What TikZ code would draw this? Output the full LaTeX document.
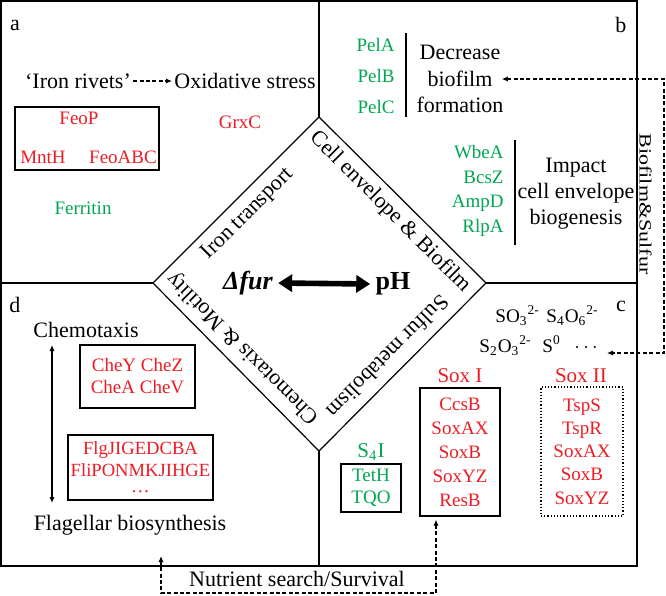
\documentclass[tikz,border=0pt]{standalone}
\usepackage{fontspec}
\setmainfont{Liberation Serif}
\usetikzlibrary{arrows.meta,positioning}
\definecolor{genered}{RGB}{237,28,36}
\definecolor{genegreen}{RGB}{0,166,81}

\begin{document}
\begin{tikzpicture}[x=0.5pt, y=-0.5pt,
    frameline/.style={line width=0.6pt},
    txt/.style={font=\fontsize{11}{13.2}\selectfont, inner sep=1pt},
    sulf/.style={font=\fontsize{9.6}{12}\selectfont, inner sep=1pt, anchor=base west},
    sidelabel/.style={font=\fontsize{11}{13}\selectfont, inner sep=0pt},
    gene/.style={font=\fontsize{9.5}{12}\selectfont, inner sep=1pt},
    redgene/.style={gene, text=genered},
    greengene/.style={gene, text=genegreen},
    genebox/.style={draw, line width=0.6pt, align=center, inner sep=0pt},
    dasharr/.style={line width=0.6pt, dash pattern=on 2pt off 1.2pt, -{Latex[length=3pt,width=2.6pt]}},
    bigarr/.style={line width=2.8pt, {Triangle[length=7pt,width=8.5pt]}-{Triangle[length=7pt,width=8.5pt]}}
]
\useasboundingbox (0,0) rectangle (666,596);

% frame and diamond
\draw[frameline] (1,1) rectangle (637,566);
\node[minimum size=0pt, inner sep=0pt] (dtop) at (319,117) {};
\node[minimum size=0pt, inner sep=0pt] (dright) at (486,283) {};
\node[minimum size=0pt, inner sep=0pt] (dbot) at (319,451) {};
\node[minimum size=0pt, inner sep=0pt] (dleft) at (153,283) {};
\draw[frameline] (dtop.center) -- (dright.center) -- (dbot.center) -- (dleft.center) -- cycle;
\draw[frameline] (319,1) -- (dtop.center);
\draw[frameline] (1,283) -- (dleft.center);
\draw[frameline] (dright.center) -- (637,283);
\draw[frameline] (dbot.center) -- (319,566);

\node[sidelabel, rotate=45]   (irontr) at (248,214) {Iron transport};
\node[sidelabel, rotate=-45]  (cellenv) at (390,212) {Cell envelope \& Biofilm};
\node[sidelabel, rotate=-135] (sulfmet) at (388,357) {Sulfur metabolism};
\node[sidelabel, rotate=135]  (chemmot) at (243,348) {Chemotaxis \& Motility};

\node[font=\fontsize{13}{15}\selectfont\bfseries\itshape, inner sep=1pt] (fur) at (248,283) {Δfur};
\node[font=\fontsize{13}{15}\selectfont\bfseries, inner sep=1pt] (ph) at (393,284) {pH};
\draw[bigarr] (fur.east) ++(3,0) -- ([xshift=-1.5pt]ph.west);

% panel a
\node[txt] (la) at (15,25) {a};
\node[txt] (rivets) at (78,81) {‘Iron rivets’};
\node[txt] (oxid) at (245,81) {Oxidative stress};
\draw[dasharr] (rivets) -- (oxid);
\node[genebox, minimum width=72pt, minimum height=31.5pt] (feobox) at (87,138.5) {};
\node[redgene] (feop) at (79,118) {FeoP};
\node[redgene] (mnth) at (43,157) {MntH};
\node[redgene] (feoabc) at (123,157) {FeoABC};
\node[redgene] (grxc) at (240,122) {GrxC};
\node[greengene] (ferritin) at (83,208) {Ferritin};

% panel b
\node[txt] (lb) at (621,25) {b};
\node[greengene, align=right, anchor=east, font=\fontsize{9.5}{15.5}\selectfont] (pel) at (397,76) {PelA\\PelB\\PelC};
\draw[frameline] (406,33) -- (406,117);
\node[txt, align=center] (decr) at (460,79) {Decrease\\biofilm\\formation};
\node[greengene, align=right, anchor=east, font=\fontsize{9.5}{12.2}\selectfont] (wbea) at (506,191) {WbeA\\BcsZ\\AmpD\\RlpA};
\draw[frameline] (515,140) -- (515,245);
\node[txt, align=center, font=\fontsize{11}{13}\selectfont] (impact) at (576,194) {Impact\\cell envelope\\biogenesis};
\node[inner sep=0pt, rotate=-90, anchor=south] (biosulf) at (639,204) {\scalebox{1.28}[1]{\fontsize{8.6}{10}\selectfont Biofilm\&Sulfur}};

% panel c
\node[txt] (lc) at (621,306) {c};
\node[sulf] (so3) at (493,322) {SO\textsubscript{3}\textsuperscript{2-}};
\node[sulf] (s4o6) at (544,322) {S\textsubscript{4}O\textsubscript{6}\textsuperscript{2-}};
\node[sulf] (s2o3) at (477,352) {S\textsubscript{2}O\textsubscript{3}\textsuperscript{2-}};
\node[sulf] (s0) at (540,352) {S\textsuperscript{0}};
\node[sulf] (sdots) at (572,352) {$\cdots$};
\coordinate (bsA) at (664,79);
\coordinate (bsB) at (664,353);
\coordinate (sulfin) at (607,353);
\draw[dasharr, {Latex[length=3pt,width=2.6pt]}-{Latex[length=3pt,width=2.6pt]}] ([xshift=-2pt]decr.east) -- (bsA) -- (bsB) -- (sulfin);

\node[redgene, font=\fontsize{10.5}{12}\selectfont] (soxi) at (460,376) {Sox I};
\node[genebox, text=genered, font=\fontsize{9.5}{12}\selectfont, minimum width=40pt, minimum height=64pt] (soxibox) at (460,452) {CcsB\\SoxAX\\SoxB\\SoxYZ\\ResB};
\node[redgene, font=\fontsize{10.5}{12}\selectfont] (soxii) at (581,376) {Sox II};
\node[genebox, draw=black, densely dotted, text=genered, font=\fontsize{9.5}{11.6}\selectfont, minimum width=41pt, minimum height=64.5pt] (soxiibox) at (582,451.5) {TspS\\TspR\\SoxAX\\SoxB\\SoxYZ};
\node[greengene, font=\fontsize{10.5}{12}\selectfont] (s4i) at (371,452) {S\textsubscript{4}I};
\node[genebox, text=genegreen, font=\fontsize{9.5}{11}\selectfont, minimum width=30pt, minimum height=24pt] (s4ibox) at (371,488) {TetH\\TQO};

% panel d
\node[txt] (ld) at (15,305) {d};
\node[txt] (chemo) at (86,330) {Chemotaxis};
\node[txt] (flag) at (130,525) {Flagellar biosynthesis};
\coordinate (chtop) at (52,345);
\coordinate (chbot) at (52,503);
\draw[line width=0.6pt, {Latex[length=3pt,width=2.6pt]}-{Latex[length=3pt,width=2.6pt]}] (chtop) -- (chbot);
\node[genebox, text=genered, font=\fontsize{9.5}{11}\selectfont, minimum width=57.5pt, minimum height=31.5pt] (chebox) at (137.5,376.5) {CheY CheZ\\CheA CheV};
\node[genebox, text=genered, font=\fontsize{9.3}{11}\selectfont, minimum width=72.5pt, minimum height=32.5pt] (flgbox) at (140.5,467.5) {FlgJIGEDCBA\\FliPONMKJIHGE\\[-3pt]\dots};

% nutrient link
\node[txt] (nutr) at (297,579) {Nutrient search/Survival};
\coordinate (nuA) at (436,593);
\coordinate (nuB) at (161,593);
\coordinate (nuend) at (161,556);
\draw[dasharr, {Latex[length=3pt,width=2.6pt]}-{Latex[length=3pt,width=2.6pt]}] ([xshift=-12pt,yshift=-1.5pt]soxibox.south) -- (nuA) -- (nuB) -- (nuend);
\end{tikzpicture}
\end{document}
